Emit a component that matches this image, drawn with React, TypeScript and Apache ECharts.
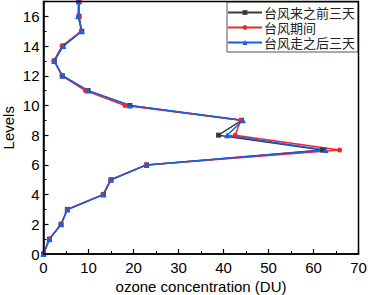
import React, { useEffect, useRef } from "react";
import * as echarts from "echarts";

const levels = [0, 1, 2, 3, 4, 5, 6, 7, 8, 9, 10, 11, 12, 13, 14, 15, 16, 17];
const beforeValues = [0, 1.3, 3.9, 5.3, 13.3, 15, 22.9, 62, 38.9, 44, 19.2, 9.9, 4.2, 2.4, 4.3, 8.5, 7.9, 7.9];
const duringValues = [0, 1.3, 3.9, 5.3, 13.2, 14.9, 22.8, 65.8, 42.6, 43.8, 18.1, 9.3, 4.1, 2.3, 4.1, 8.4, 7.8, 7.8];
const afterValues = [0, 1.3, 3.9, 5.3, 13.3, 15, 22.9, 62.7, 40.8, 44.3, 19.2, 9.9, 4.2, 2.4, 4.4, 8.5, 7.7, 7.8];
const seriesNames = ["台风来之前三天", "台风期间", "台风走之后三天"];
const xAxisName = "ozone concentration (DU)";
const yAxisName = "Levels";

export default function App() {
  const ref = useRef<HTMLDivElement>(null);
  useEffect(() => {
    if (!ref.current) return;
    const chart = echarts.init(ref.current, null, { renderer: "svg" });
    const font = "Liberation Sans, Arial, sans-serif";
    const mk = (vals: number[]) => vals.map((v, i) => [v, levels[i]]);
    const axisLine = { show: true, onZero: false, lineStyle: { color: "#000", width: 1.5 } };
    chart.setOption({
      animation: false,
      grid: { left: 43.5, right: 9.5, top: 1.5, bottom: 41, containLabel: false, outerBoundsMode: "none" },
      legend: {
        left: 227,
        top: 2,
        orient: "vertical",
        backgroundColor: "#fff",
        borderColor: "#555",
        borderWidth: 1,
        borderRadius: 0,
        padding: [4, 3, 3, 0],
        itemGap: 2,
        itemWidth: 34,
        itemHeight: 6,
        textStyle: { fontFamily: "Noto Sans CJK SC", fontSize: 13, lineHeight: 13, color: "#222", padding: [0, 0, 0, -3] },
        data: seriesNames,
      },
      xAxis: {
        type: "value",
        min: 0,
        max: 70,
        interval: 10,
        name: xAxisName,
        nameLocation: "middle",
        nameGap: 25,
        nameMoveOverlap: false,
        nameTextStyle: { fontFamily: font, fontSize: 15, color: "#000" },
        axisLine,
        axisTick: { show: true, inside: true, length: 5, lineStyle: { color: "#000", width: 1.2 } },
        minorTick: { show: true, splitNumber: 2, length: 3, lineStyle: { color: "#000", width: 1 } },
        axisLabel: { fontFamily: font, fontSize: 15, color: "#000", margin: 6 },
        splitLine: { show: false },
      },
      yAxis: {
        type: "value",
        min: 0,
        max: 17,
        interval: 2,
        name: yAxisName,
        nameLocation: "middle",
        nameGap: 28,
        nameMoveOverlap: false,
        nameRotate: 90,
        nameTextStyle: { fontFamily: font, fontSize: 15, color: "#000" },
        axisLine,
        axisTick: { show: true, inside: true, length: 5, lineStyle: { color: "#000", width: 1.2 } },
        minorTick: { show: true, splitNumber: 2, length: 3, lineStyle: { color: "#000", width: 1 } },
        axisLabel: { fontFamily: font, fontSize: 15, color: "#000", margin: 4, showMaxLabel: false },
        splitLine: { show: false },
      },
      graphic: [
        {
          type: "rect",
          shape: { x: 43.5, y: 1.5, width: 315, height: 252.5 },
          style: { fill: "none", stroke: "#000", lineWidth: 1.5 },
          silent: true,
          z: 10,
        },
      ],
      series: [
        {
          name: seriesNames[0],
          type: "line",
          data: mk(beforeValues),
          symbol: "rect",
          symbolSize: 5,
          color: "#3a3a3a",
          lineStyle: { width: 1.5, color: "#3a3a3a" },
          itemStyle: { color: "#3a3a3a" },
        },
        {
          name: seriesNames[1],
          type: "line",
          data: mk(duringValues),
          symbol: "circle",
          symbolSize: 5,
          color: "#f0262c",
          lineStyle: { width: 1.5, color: "#f0262c" },
          itemStyle: { color: "#f0262c" },
        },
        {
          name: seriesNames[2],
          type: "line",
          data: mk(afterValues),
          symbol: "triangle",
          symbolSize: 6,
          color: "#1560e8",
          lineStyle: { width: 1.5, color: "#1560e8" },
          itemStyle: { color: "#1560e8" },
        },
      ],
    });
    return () => chart.dispose();
  }, []);
  return <div ref={ref} style={{ width: 368, height: 295, position: "absolute", left: 0, top: 0 }} />;
}
